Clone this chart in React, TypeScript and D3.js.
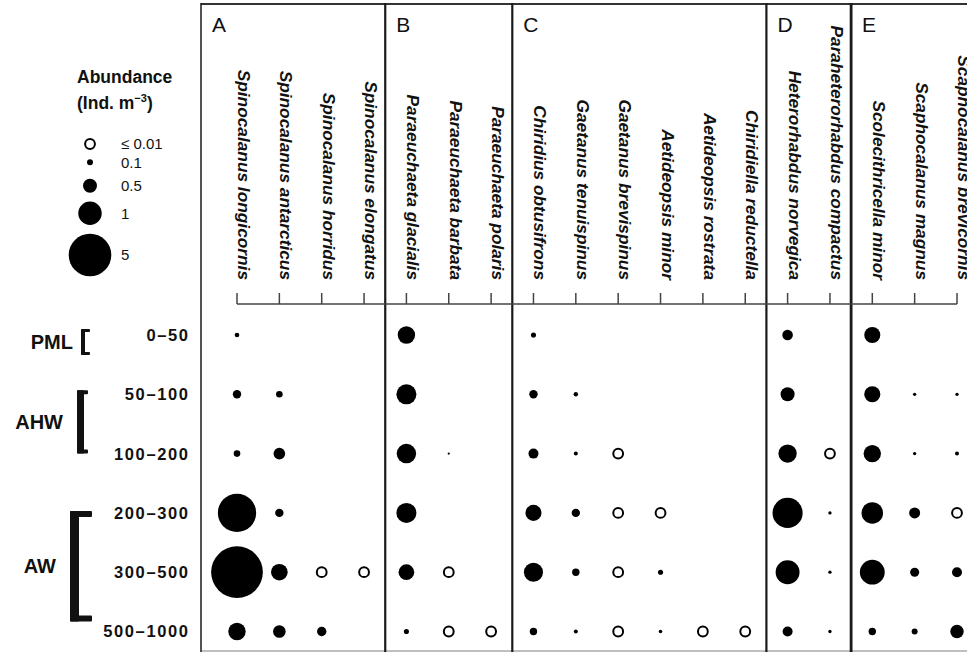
import React, { useEffect, useRef } from 'react';
import * as d3 from 'd3';

// depth strata (m) and water masses
const depths = ['0–50', '50–100', '100–200', '200–300', '300–500', '500–1000'];
const waterMasses = ['PML', 'AHW', 'AW'];
const waterMassFrom = [0, 1, 3];
const waterMassTo = [0, 2, 5];

// panels and species (in column order)
const panels = ['A', 'B', 'C', 'D', 'E'];
const speciesPanel = ['A', 'A', 'A', 'A', 'B', 'B', 'B', 'C', 'C', 'C', 'C', 'C', 'C', 'D', 'D', 'E', 'E', 'E'];
const species = [
  'Spinocalanus longicornis', 'Spinocalanus antarcticus', 'Spinocalanus horridus', 'Spinocalanus elongatus',
  'Paraeuchaeta glacialis', 'Paraeuchaeta barbata', 'Paraeuchaeta polaris',
  'Chiridius obtusifrons', 'Gaetanus tenuispinus', 'Gaetanus brevispinus', 'Aetideopsis minor', 'Aetideopsis rostrata', 'Chiridiella reductella',
  'Heterorhabdus norvegica', 'Paraheterorhabdus compactus',
  'Scolecithricella minor', 'Scaphocalanus magnus', 'Scaphocalanus brevicornis',
];

// abundance (ind. m-3) per species, by depth stratum; null = absent, 0.01 = "<= 0.01"
const abundance = [
  [0.07, 0.22, 0.13, 4.1, 6.9, 0.68],
  [null, 0.13, 0.38, 0.22, 0.64, 0.43],
  [null, null, null, null, 0.01, 0.27],
  [null, null, null, null, 0.01, null],
  [0.68, 0.82, 0.79, 0.82, 0.59, 0.08],
  [null, null, 0.015, null, 0.01, 0.01],
  [null, null, null, null, null, 0.01],
  [0.08, 0.22, 0.3, 0.61, 0.77, 0.17],
  [null, 0.064, 0.055, 0.22, 0.17, 0.055],
  [null, null, 0.01, 0.01, 0.01, 0.01],
  [null, null, null, 0.01, 0.08, 0.046],
  [null, null, null, null, null, 0.01],
  [null, null, null, null, null, 0.01],
  [0.33, 0.5, 0.73, 2.4, 1.1, 0.3],
  [null, null, 0.01, 0.04, 0.04, 0.04],
  [0.61, 0.61, 0.68, 0.9, 1.3, 0.17],
  [null, 0.04, 0.04, 0.35, 0.25, 0.1],
  [null, 0.04, 0.055, 0.01, 0.3, 0.47],
];

// legend classes
const legendValues = [0.01, 0.1, 0.5, 1, 5];
const legendLabels = ['≤ 0.01', '0.1', '0.5', '1', '5'];

const W = 967;
const H = 653;
const FONT = 'Liberation Sans, Arial, sans-serif';

const App = () => {
  const svgRef = useRef<SVGSVGElement>(null);

  useEffect(() => {
    const svg = d3.select(svgRef.current);
    svg.selectAll('*').remove();

    const x = d3.scalePoint<string>().domain(species).range([237, 957]);
    const y = d3.scalePoint<string>().domain(depths).range([335, 631.5]);
    const r = d3.scaleLinear().domain([0.01, 0.1, 0.5, 1, 5]).range([1, 3, 7, 11.7, 21.3]);
    const openR = 4.9;

    const top = 4;
    const bottom = 651;
    const left = x(species[0])! - 36;

    // panel borders
    const borders: number[] = [left];
    panels.slice(1).forEach((p) => {
      const i = speciesPanel.indexOf(p);
      borders.push((x(species[i - 1])! + x(species[i])!) / 2);
    });

    svg.append('line')
      .attr('x1', left).attr('x2', W).attr('y1', top).attr('y2', top)
      .attr('stroke', '#333').attr('stroke-width', 2);
    svg.append('line')
      .attr('x1', left).attr('x2', W).attr('y1', bottom).attr('y2', bottom)
      .attr('stroke', '#aaa').attr('stroke-width', 1.5);

    borders.forEach((bx, i) => {
      svg.append('line')
        .attr('x1', bx).attr('x2', bx).attr('y1', top - 1).attr('y2', bottom + 1)
        .attr('stroke', '#1a1a1a').attr('stroke-width', i === 0 ? 1.5 : i === 4 ? 2.8 : 2.2);
      svg.append('text')
        .attr('x', bx + 11).attr('y', 32)
        .attr('font-family', FONT).attr('font-size', 21)
        .attr('fill', '#111')
        .text(panels[i]);
    });

    // species labels
    svg.selectAll('.sp')
      .data(species)
      .enter().append('text')
      .attr('class', 'sp')
      .attr('transform', (d) => `translate(${x(d)! + 1},280) rotate(90)`)
      .attr('text-anchor', 'end')
      .attr('font-family', FONT).attr('font-size', 17.3)
      .attr('font-style', 'italic').attr('font-weight', 'bold')
      .attr('fill', '#111')
      .text((d) => d);

    // top axis with ticks
    const axisY = 304;
    svg.append('line')
      .attr('x1', x(species[0])!).attr('x2', x(species[species.length - 1])!)
      .attr('y1', axisY).attr('y2', axisY)
      .attr('stroke', '#444').attr('stroke-width', 1.5);
    svg.selectAll('.tick')
      .data(species)
      .enter().append('line')
      .attr('class', 'tick')
      .attr('x1', (d) => x(d)!).attr('x2', (d) => x(d)!)
      .attr('y1', axisY - 11).attr('y2', axisY)
      .attr('stroke', '#444').attr('stroke-width', 1.5);

    // depth labels
    svg.selectAll('.depth')
      .data(depths)
      .enter().append('text')
      .attr('class', 'depth')
      .attr('x', 189.5).attr('y', (d) => y(d)!)
      .attr('dy', '0.36em')
      .attr('text-anchor', 'end')
      .attr('font-family', FONT).attr('font-size', 16.5).attr('font-weight', 'bold')
      .attr('letter-spacing', 1.6)
      .attr('fill', '#111')
      .text((d) => d);

    // water mass brackets
    const bracketStyle = [
      { w: 4, serif: 3, len: 9, pad0: -6, pad1: 20, bx: 81, gap: 8 },
      { w: 7, serif: 4, len: 11, pad0: -4, pad1: 0, bx: 77, gap: 14 },
      { w: 9, serif: 6, len: 22, pad0: -2, pad1: -10, bx: 70, gap: 14 },
    ];
    waterMasses.forEach((wm, i) => {
      const s = bracketStyle[i];
      const y0 = y(depths[waterMassFrom[i]])! + s.pad0;
      const y1 = y(depths[waterMassTo[i]])! + s.pad1;
      const g = svg.append('g').attr('fill', '#111');
      g.append('rect').attr('x', s.bx).attr('y', y0).attr('width', s.w).attr('height', y1 - y0).attr('rx', 1);
      g.append('rect').attr('x', s.bx).attr('y', y0).attr('width', s.len).attr('height', s.serif).attr('rx', 1);
      g.append('rect').attr('x', s.bx).attr('y', y1 - s.serif).attr('width', s.len).attr('height', s.serif).attr('rx', 1);
      svg.append('text')
        .attr('x', s.bx - s.gap).attr('y', (y0 + y1) / 2)
        .attr('dy', '0.36em')
        .attr('text-anchor', 'end')
        .attr('font-family', FONT).attr('font-size', 20).attr('font-weight', 'bold')
        .attr('fill', '#111')
        .text(wm);
    });

    // bubbles
    const cells: { sp: string; depth: string; v: number }[] = [];
    species.forEach((sp, i) => {
      abundance[i].forEach((v, j) => {
        if (v !== null) cells.push({ sp, depth: depths[j], v });
      });
    });
    svg.selectAll('.bubble')
      .data(cells)
      .enter().append('circle')
      .attr('class', 'bubble')
      .attr('cx', (d) => x(d.sp)!)
      .attr('cy', (d) => y(d.depth)!)
      .attr('r', (d) => (d.v <= 0.01 ? openR : r(d.v)))
      .attr('fill', (d) => (d.v <= 0.01 ? '#fff' : '#000'))
      .attr('stroke', (d) => (d.v <= 0.01 ? '#000' : 'none'))
      .attr('stroke-width', 2);

    // legend
    const legend = svg.append('g');
    legend.append('text')
      .attr('x', 77).attr('y', 83)
      .attr('font-family', FONT).attr('font-size', 17.5).attr('font-weight', 'bold')
      .attr('fill', '#111')
      .text('Abundance');
    const sub = legend.append('text')
      .attr('x', 77).attr('y', 109)
      .attr('font-family', FONT).attr('font-size', 17.5).attr('font-weight', 'bold')
      .attr('fill', '#111');
    sub.append('tspan').text('(Ind. m');
    sub.append('tspan').attr('dy', -7).attr('font-size', 11).text('−3');
    sub.append('tspan').attr('dy', 7).text(')');

    const legendYs = [144, 162.3, 185.7, 213.3, 255];
    legendValues.forEach((v, i) => {
      const cy = legendYs[i];
      legend.append('circle')
        .attr('cx', 90).attr('cy', cy)
        .attr('r', v <= 0.01 ? openR : r(v))
        .attr('fill', v <= 0.01 ? '#fff' : '#000')
        .attr('stroke', v <= 0.01 ? '#000' : 'none')
        .attr('stroke-width', 2);
      legend.append('text')
        .attr('x', 121).attr('y', cy)
        .attr('dy', '0.36em')
        .attr('font-family', FONT).attr('font-size', 15)
        .attr('fill', '#111')
        .text(legendLabels[i]);
    });
  }, []);

  return (
    <svg
      ref={svgRef}
      width={W}
      height={H}
      style={{ position: 'absolute', left: 0, top: 0, background: '#fff' }}
    />
  );
};

export default App;
